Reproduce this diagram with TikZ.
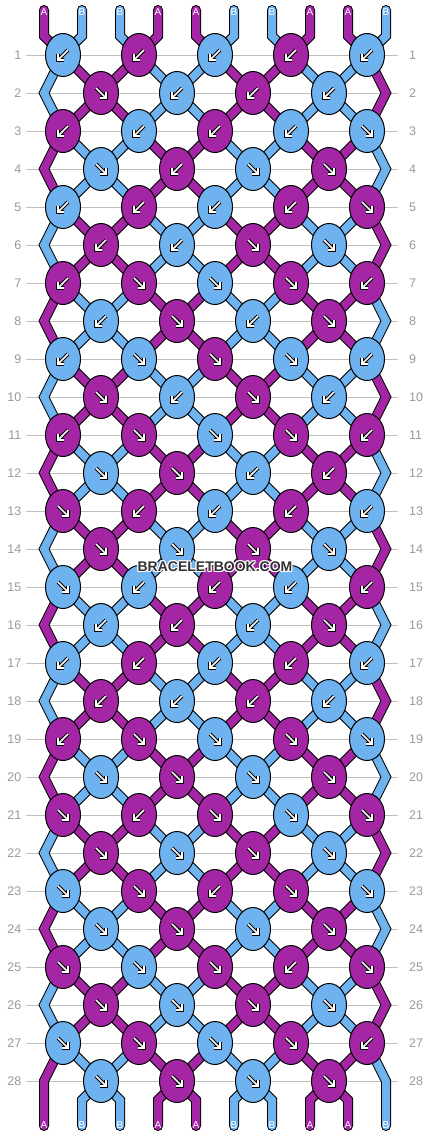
\documentclass[tikz,border=0pt]{standalone}
\usepackage{fontspec}
\setmainfont{Liberation Sans}
\usetikzlibrary{shapes.geometric}

\definecolor{strA}{HTML}{A526A5}
\definecolor{strB}{HTML}{6EB3EF}
\colorlet{str0}{strA}
\colorlet{str1}{strB}
\definecolor{rulegray}{HTML}{BDBDBD}
\definecolor{labelgray}{HTML}{999999}
\definecolor{markgray}{HTML}{333333}

\pgfdeclarelayer{grid}
\pgfdeclarelayer{strands}
\pgfsetlayers{grid,strands,main}

\tikzset{
  fknot/.style={ellipse, draw=black, line width=1pt, fill=str#1,
    minimum width=35pt, minimum height=43pt, inner sep=0pt},
  strand/.style={draw=black, line width=1pt, double=str#1, double distance=8pt},
  knotarrow/.style={draw=white, line width=1.6pt, line join=miter,
    preaction={draw=black, line width=3.8pt}},
  rowlabel/.style={text=labelgray, inner sep=0pt, font=\fontsize{12.5}{13}\selectfont},
  endlabel/.style={text=white, inner sep=0pt, font=\fontsize{10}{10}\selectfont},
  marktext/.style={inner sep=0pt, font=\bfseries\fontsize{14}{14}\selectfont}
}

\begin{document}
\begin{tikzpicture}[x=1pt, y=-1pt]
\useasboundingbox (0,0) rectangle (430,1136);

% row numbers and guide lines
\foreach \rn in {1,...,28}{
  \node[rowlabel, anchor=east] (leftno-\rn) at (21.5,17+38*\rn) {\rn};
  \node[rowlabel, anchor=west] (rightno-\rn) at (409,17+38*\rn) {\rn};
  \begin{pgfonlayer}{grid}
    \draw[rulegray, line width=1pt] ([xshift=4.5pt]leftno-\rn.east) -- ([xshift=-11pt]rightno-\rn.west);
  \end{pgfonlayer}
}

% knots: colour / direction (1 = forward, -1 = backward)
\foreach \rn/\rowdata in {
  1/{B/-1,A/-1,B/-1,A/-1,B/-1},
  2/{A/1,B/-1,A/-1,B/-1},
  3/{A/-1,B/-1,A/-1,B/-1,B/1},
  4/{B/1,A/-1,B/1,A/1},
  5/{B/-1,A/-1,B/-1,A/-1,A/1},
  6/{A/-1,B/-1,A/1,B/1},
  7/{A/-1,A/1,B/1,A/1,A/-1},
  8/{B/-1,A/1,B/-1,A/1},
  9/{B/-1,B/1,A/1,B/1,B/-1},
  10/{A/1,B/-1,A/1,B/-1},
  11/{A/-1,A/1,B/1,A/1,A/-1},
  12/{B/1,A/1,B/-1,A/-1},
  13/{A/1,A/-1,B/-1,A/-1,B/-1},
  14/{A/1,B/1,A/1,B/1},
  15/{B/1,B/-1,A/-1,B/-1,A/-1},
  16/{B/-1,A/-1,B/-1,A/1},
  17/{B/-1,A/-1,B/-1,A/-1,B/-1},
  18/{A/-1,B/-1,A/-1,B/-1},
  19/{A/-1,A/1,B/1,A/1,B/1},
  20/{B/1,A/1,B/1,A/1},
  21/{A/1,A/-1,A/1,B/1,A/1},
  22/{A/1,B/1,A/1,B/1},
  23/{B/1,A/1,A/-1,A/1,B/1},
  24/{B/1,A/1,B/1,A/1},
  25/{A/1,B/1,A/1,A/-1,A/1},
  26/{A/1,B/1,A/1,B/1},
  27/{B/1,A/1,B/1,A/1,A/-1},
  28/{B/1,A/1,B/1,A/1}}{
  \foreach \kc/\kd [count=\ki] in \rowdata {
    \pgfmathtruncatemacro\kx{ifthenelse(mod(\rn,2)==1, 25+38*(2*\ki-1), 25+76*\ki)}
    \node[fknot=\kc] (k-\rn-\ki) at (\kx,17+38*\rn) {};
    \draw[knotarrow, shift={(k-\rn-\ki.center)}, xscale=\kd] (-5,-5) -- (5,5) (5,-1) -- (5,5) -- (-1,5);
  }
}

\begin{pgfonlayer}{strands}
% strands between knots
\foreach \rn in {1,...,27}{
  \pgfmathtruncatemacro\nx{\rn+1}
  \foreach \pos in {2,...,9}{
    \pgfmathtruncatemacro\ko{ceil(\pos/2)}
    \pgfmathtruncatemacro\ke{floor(\pos/2)}
    \pgfmathtruncatemacro\cq{mod(\ke+floor((\rn-1)/2)+1,2)}
    \ifodd\rn
      \draw[strand=\cq] (k-\rn-\ko.center) -- (k-\nx-\ke.center);
    \else
      \draw[strand=\cq] (k-\rn-\ke.center) -- (k-\nx-\ko.center);
    \fi
  }
}
% edge strands
\foreach \rn in {2,4,...,26}{
  \pgfmathtruncatemacro\pv{\rn-1}
  \pgfmathtruncatemacro\nx{\rn+1}
  \pgfmathtruncatemacro\cq{mod(floor((\rn-1)/2)+1,2)}
  \pgfmathtruncatemacro\cw{1-\cq}
  \coordinate (el-\rn) at (44,17+38*\rn);
  \coordinate (er-\rn) at (386,17+38*\rn);
  \draw[strand=\cq] (k-\pv-1.center) -- (el-\rn) -- (k-\nx-1.center);
  \draw[strand=\cw] (k-\pv-5.center) -- (er-\rn) -- (k-\nx-5.center);
}
% loose ends, top and bottom
\foreach \sc [count=\pos] in {A,B,B,A,A,B,B,A,A,B}{
  \pgfmathtruncatemacro\ko{ceil(\pos/2)}
  \pgfmathtruncatemacro\ke{floor(\pos/2)}
  \coordinate (top-\pos) at (6+38*\pos,10);
  \coordinate (bot-\pos) at (6+38*\pos,1126);
  \draw[strand=\sc, line cap=round] (top-\pos) -- ++(0,26) -- (k-1-\ko.center);
  \ifnum\pos=1
    \draw[strand=\sc, line cap=round] (bot-\pos) -- ++(0,-45) -- (k-27-1.center);
  \else\ifnum\pos=10
    \draw[strand=\sc, line cap=round] (bot-\pos) -- ++(0,-45) -- (k-27-5.center);
  \else
    \draw[strand=\sc, line cap=round] (bot-\pos) -- ++(0,-26) -- (k-28-\ke.center);
  \fi\fi
}
\end{pgfonlayer}

\foreach \sc [count=\pos] in {A,B,B,A,A,B,B,A,A,B}{
  \node[endlabel] (tl-\pos) at (6+38*\pos,12) {\sc};
  \node[endlabel] (bl-\pos) at (6+38*\pos,1125) {\sc};
}

% watermark
\foreach \dx/\dy [count=\h] in {-1/-1,0/-1,1/-1,-1/0,1/0,-1/1,0/1,1/1}
  \node[marktext, text=white] (halo-\h) at ({215+(\dx)},{567+(\dy)}) {BRACELETBOOK.COM};
\node[marktext, text=markgray] (site) at (215,567) {BRACELETBOOK.COM};
\end{tikzpicture}
\end{document}
